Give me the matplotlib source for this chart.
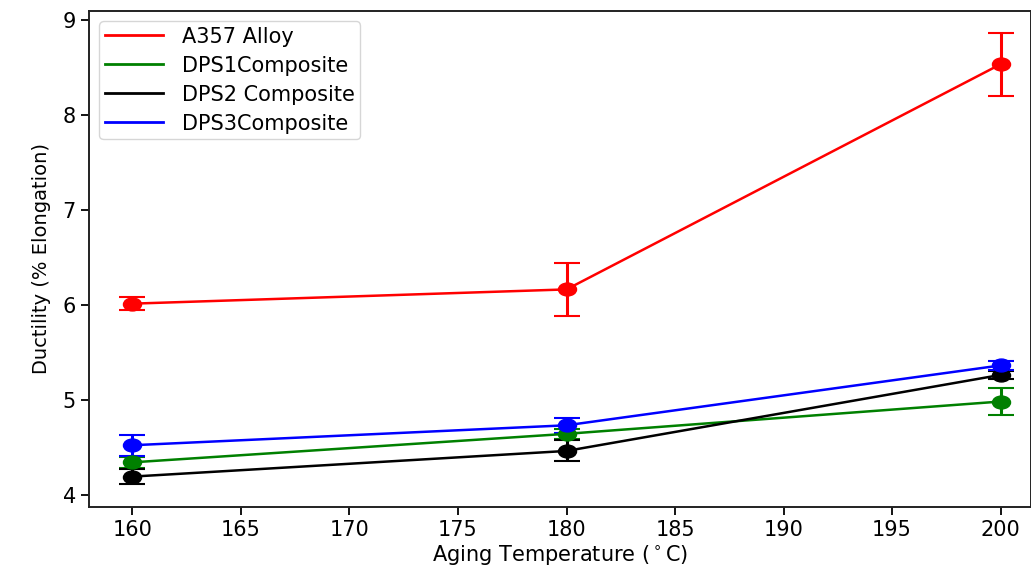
import matplotlib
matplotlib.use("Agg")
import matplotlib.pyplot as plt
from matplotlib.path import Path
from matplotlib.transforms import Affine2D

temps = [160, 180, 200]

a357 = [6.01, 6.16, 8.53]
a357_err = [0.07, 0.28, 0.33]

dps1 = [4.34, 4.64, 4.98]
dps1_err = [0.06, 0.05, 0.14]

dps2 = [4.19, 4.46, 5.26]
dps2_err = [0.08, 0.11, 0.04]

dps3 = [4.52, 4.73, 5.36]
dps3_err = [0.11, 0.08, 0.05]

series = [
    ("A357 Alloy", a357, a357_err, "red"),
    ("DPS1Composite", dps1, dps1_err, "green"),
    ("DPS2 Composite", dps2, dps2_err, "black"),
    ("DPS3Composite", dps3, dps3_err, "blue"),
]

# slightly wide elliptical point marker
wide_dot = Affine2D().scale(1.4, 1.0).transform_path(Path.unit_circle())

plt.rcParams["font.family"] = ["DejaVu Sans"]
fig = plt.figure(figsize=(10.31, 5.67), dpi=100)
ax = fig.add_axes([89 / 1031, 1 - 507 / 567, (1031 - 89) / 1031, (507 - 11) / 567])

for label, vals, errs, color in series:
    ax.errorbar(temps, vals, yerr=errs, color=color, marker=wide_dot, markersize=13,
                linewidth=1.8, capsize=9.5, elinewidth=2.2, capthick=1.5, label=label)

ax.set_xlim(158, 201.4)
ax.set_ylim(3.87, 9.09)
ax.set_xticks([160, 165, 170, 175, 180, 185, 190, 195, 200])
ax.set_yticks([4, 5, 6, 7, 8, 9])
ax.tick_params(labelsize=15, width=1.3, length=6)
for s in ax.spines.values():
    s.set_linewidth(1.4)
    s.set_color("#222222")

ax.set_xlabel("Aging Temperature ($^\\circ$C)", fontsize=15, labelpad=2)
ax.set_ylabel("Ductility (% Elongation)", fontsize=14, labelpad=8)

handles = [plt.Line2D([], [], color=c, linewidth=2) for _, _, _, c in series]
ax.legend(handles, [s[0] for s in series], loc="upper left", fontsize=15,
          handlelength=2.8, handletextpad=0.9, borderpad=0.25, labelspacing=0.43,
          borderaxespad=0.5)

fig.savefig("out.png", dpi=100)
